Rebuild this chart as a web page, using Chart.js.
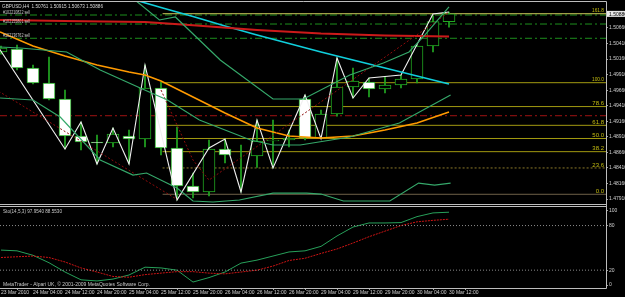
<!DOCTYPE html>
<html>
<head>
<meta charset="utf-8">
<script src="https://cdn.jsdelivr.net/npm/chart.js@4.4.1/dist/chart.umd.min.js"></script>
<style>
  html, body { margin: 0; padding: 0; background: #000; }
  canvas { display: block; }
</style>
</head>
<body>
<canvas id="chart" width="625" height="297"></canvas>
<script>
// GBPUSD H4, 23 Mar 20:00 .. 30 Mar 12:00 (bar index 0..28)
const tickBars = [0, 2, 4, 6, 8, 10, 12, 14, 16, 18, 20, 22, 24, 26, 28];
const tickLabels = ["23 Mar 2010", "24 Mar 04:00", "24 Mar 12:00", "24 Mar 20:00", "25 Mar 04:00", "25 Mar 12:00",
  "25 Mar 20:00", "26 Mar 04:00", "26 Mar 12:00", "26 Mar 20:00", "29 Mar 04:00", "29 Mar 12:00",
  "29 Mar 20:00", "30 Mar 04:00", "30 Mar 12:00"];

const opens  = [1.50273, 1.50322, 1.50016, 1.49775, 1.49518, 1.48923, 1.48826, 1.48810, 1.48923, 1.48875, 1.49695, 1.48730, 1.48119, 1.48023, 1.48714, 1.48617, 1.48601, 1.48842, 1.48859, 1.49518, 1.48891, 1.49277, 1.49711, 1.49791, 1.49678, 1.49743, 1.49839, 1.50370, 1.50761];
const highs  = [1.50370, 1.50386, 1.50064, 1.50193, 1.49662, 1.49148, 1.48939, 1.49051, 1.49019, 1.50064, 1.49791, 1.49068, 1.48328, 1.48859, 1.48875, 1.48778, 1.49180, 1.49180, 1.49019, 1.49582, 1.49341, 1.50177, 1.50016, 1.49855, 1.49871, 1.49904, 1.50386, 1.50860, 1.50915];
const lows   = [1.50240, 1.49984, 1.49759, 1.49502, 1.48714, 1.48698, 1.48473, 1.48746, 1.48473, 1.48746, 1.48617, 1.47894, 1.47926, 1.47958, 1.48489, 1.48023, 1.48420, 1.48408, 1.48746, 1.48859, 1.48880, 1.49240, 1.49534, 1.49550, 1.49614, 1.49695, 1.49775, 1.50273, 1.50673];
const closes = [1.50337, 1.50016, 1.49775, 1.49518, 1.48923, 1.48826, 1.48810, 1.48955, 1.48875, 1.49695, 1.48730, 1.48119, 1.48023, 1.48714, 1.48617, 1.48617, 1.48842, 1.48859, 1.48891, 1.48891, 1.49277, 1.49711, 1.49807, 1.49678, 1.49743, 1.49839, 1.50370, 1.50761, 1.50886];

// indicator lines as [bar, price]
const zigzag = [[-1, 1.50680], [4, 1.48714], [5, 1.49148], [6, 1.48473], [7, 1.49051], [8, 1.48473], [9, 1.50064], [11, 1.47894], [13, 1.48730], [14, 1.48875], [15, 1.48023], [16, 1.49180], [17, 1.48408], [19, 1.49582], [20, 1.48880], [21, 1.50177], [22, 1.49534], [23, 1.49855], [25, 1.49904], [27, 1.50884], [28, 1.50915]];
const cyanMA = [[7, 1.51212], [8, 1.51137], [10, 1.50989], [12, 1.50844], [14, 1.50691], [16, 1.50547], [18, 1.50410], [20, 1.50273], [22, 1.50145], [24, 1.50016], [26, 1.49888], [28, 1.49759]];
const redMA = [[-0.06, 1.50788], [4, 1.50772], [9, 1.50756], [12, 1.50704], [16, 1.50627], [20, 1.50571], [24, 1.50539], [28, 1.50523]];
const orangeMA = [[-0.06, 1.50595], [2, 1.50370], [4, 1.50209], [6, 1.50064], [8, 1.49952], [9, 1.49904], [10, 1.49807], [12, 1.49550], [14, 1.49293], [16, 1.49051], [18, 1.48923], [20, 1.48891], [22, 1.48923], [24, 1.49019], [26, 1.49132], [28, 1.49309]];
const bandUpper = [[8.3, 1.51125], [9.9, 1.50788], [10.9, 1.50836], [13.7, 1.50145], [17, 1.49518], [18.9, 1.49518], [21.8, 1.49904], [23.9, 1.50097], [25.5, 1.50273], [26.5, 1.50547], [28, 1.50997]];
const bandMiddle = [[-0.06, 1.50354], [1.2, 1.50338], [4.1, 1.50273], [6.2, 1.49984], [8.7, 1.49695], [10.4, 1.49502], [12.4, 1.49180], [15.6, 1.48859], [17, 1.48778], [18.7, 1.48778], [21.8, 1.48907], [24.9, 1.49132], [28.1, 1.49582]];
const bandLower = [[-0.06, 1.49534], [2, 1.49502], [3.7, 1.49228], [6.2, 1.48537], [8.25, 1.48296], [9.1, 1.48328], [11, 1.48087], [12, 1.47878], [13.25, 1.47862], [14.9, 1.47894], [17, 1.48006], [19.1, 1.48006], [20, 1.47990], [21.4, 1.47878], [24.3, 1.47878], [26.1, 1.48167], [27.1, 1.48135], [28.1, 1.48167]];
const darkRedDown = [[-1, 1.49775], [11, 1.47904]];
const darkRedUp = [[10, 1.49662], [11, 1.49100], [12, 1.48537], [13, 1.48215], [28, 1.50910]];

// horizontal objects
const fibLow = 1.47986;
const fibHigh = 1.49780;
const fibStartBar = 10.1;
const fibRatios = [0, 23.6, 38.2, 50.0, 61.8, 78.6, 100.0, 161.8];
const fibColors = ["#6e6048", "#8c7a2a", "#a29a10", "#a29a10", "#a29a10", "#a29a10", "#a29a10", "#cbc85a"];
const orderPrices = [1.50868, 1.50723, 1.50494];
const orderNames = ["#102210822 sell", "#102155801 sell", "#102136762 sell"];
const redLevel = 1.49249;

// price axis
const priceTicks = [1.4791, 1.4816, 1.4841, 1.4866, 1.4891, 1.4916, 1.4941, 1.4966, 1.4991, 1.5016, 1.5041, 1.5066];
const priceMin = 1.47830;
const priceMax = 1.51077;

// stochastic (14,5,3)
const stochMain   = [47, 46, 40, 30, 17.5, 7, 5.5, 8, 13.5, 24, 23, 20, 4, 10, 17.5, 29.5, 33.5, 39, 44.5, 46, 52, 66, 78, 83.5, 83.5, 84, 92, 97, 97.954];
const stochSignal = [37, 38, 39, 37, 31, 23, 17.5, 11.5, 10.5, 14, 16, 18, 18, 16, 15, 17.5, 20, 25.5, 33, 36, 42.5, 48.5, 56.5, 65, 72.5, 80, 85, 87, 88.553];
const stochTicks = [0, 20, 80, 100];
const stochLevels = [20, 80];

const xMin = -0.0625;
const xMax = 37.8125;
const FONT = '"Liberation Sans", Arial, sans-serif';
const GREEN = "#22aa22";

const pts = (arr) => arr.map(([x, y]) => ({ x, y }));
const hline = (price, from) => [{ x: from, y: price }, { x: xMax, y: price }];
const fibPrice = (r) => fibLow + (fibHigh - fibLow) * r / 100;

function lineSet(data, color, width, extra = {}) {
  return { type: "line", data, borderColor: color, borderWidth: width, pointRadius: 0, pointHoverRadius: 0, tension: 0, fill: false, yAxisID: "y", order: 1, ...extra };
}

const bars = closes.map((c, i) => i);
const datasets = [];

// horizontal objects (behind candles)
fibRatios.forEach((r, i) => {
  datasets.push(lineSet(hline(fibPrice(r), fibStartBar), fibColors[i], 1, { order: 4, borderDash: r === 23.6 ? [2, 2] : [] }));
});
orderPrices.forEach((p) => datasets.push(lineSet(hline(p, xMin), "#1d8f1d", 1, { order: 4, borderDash: [7, 3, 2, 3] })));
datasets.push(lineSet(hline(redLevel, xMin), "#a01212", 1, { order: 4, borderDash: [7, 3, 2, 3] }));

// candles: wicks then bodies
datasets.push({
  type: "bar", yAxisID: "y", order: 3, grouped: false,
  data: bars.map((i) => ({ x: i, y: [lows[i], highs[i]] })),
  backgroundColor: GREEN, borderWidth: 0, barThickness: 1,
});
datasets.push({
  type: "bar", yAxisID: "y", order: 2, grouped: false,
  data: bars.map((i) => ({ x: i, y: [opens[i], closes[i]] })),
  backgroundColor: bars.map((i) => (closes[i] >= opens[i] ? "#000000" : "#ffffff")),
  borderColor: GREEN, borderWidth: 1, borderSkipped: false, barThickness: 12,
});

// indicators
datasets.push(lineSet(pts(bandUpper), "#35a86a", 1.2));
datasets.push(lineSet(pts(bandMiddle), "#35a86a", 1.2));
datasets.push(lineSet(pts(bandLower), "#35a86a", 1.2));
datasets.push(lineSet(pts(darkRedDown), "#8e0c0c", 1, { borderDash: [2, 2] }));
datasets.push(lineSet(pts(darkRedUp), "#8e0c0c", 1, { borderDash: [2, 2] }));
datasets.push(lineSet(pts(redMA), "#cc1a1a", 2));
datasets.push(lineSet(pts(orangeMA), "#ff9a00", 1.6));
datasets.push(lineSet(pts(cyanMA), "#10cfdc", 1.6));
datasets.push(lineSet(pts(zigzag), "#f0f0f0", 1.1));

// stochastic pane
stochLevels.forEach((lv) => datasets.push(lineSet(hline(lv, xMin), "#8a8a8a", 1, { yAxisID: "yS", borderDash: [1, 2] })));
datasets.push(lineSet(bars.map((i) => ({ x: i, y: stochSignal[i] })), "#cc1414", 1, { yAxisID: "yS", borderDash: [2, 1] }));
datasets.push(lineSet(bars.map((i) => ({ x: i, y: stochMain[i] })), "#27a05a", 1, { yAxisID: "yS" }));

const overlay = {
  id: "overlay",
  afterDraw(chart) {
    const { ctx, chartArea: a, scales: { y, yS } } = chart;
    ctx.save();
    // frames and pane separator
    ctx.strokeStyle = "#bdbdbd";
    ctx.lineWidth = 1;
    ctx.beginPath();
    ctx.moveTo(a.left, a.top - 0.5); ctx.lineTo(a.right + 0.5, a.top - 0.5);
    ctx.moveTo(a.right + 0.5, a.top - 0.5); ctx.lineTo(a.right + 0.5, a.bottom + 0.5);
    ctx.moveTo(a.left, y.bottom + 0.5); ctx.lineTo(a.right, y.bottom + 0.5);
    ctx.moveTo(a.left, y.bottom + 2.5); ctx.lineTo(a.right, y.bottom + 2.5);
    ctx.moveTo(a.left, a.bottom + 0.5); ctx.lineTo(a.right + 0.5, a.bottom + 0.5);
    ctx.stroke();

    ctx.textBaseline = "middle";
    ctx.textAlign = "left";
    ctx.font = "6px " + FONT;
    ctx.fillStyle = "#d8d8d8";
    const last = closes.length - 1;
    const header = "GBPUSD,H4  " + [opens[last], highs[last], lows[last], closes[last]].map((v) => v.toFixed(5)).join(" ");
    ctx.fillText(header, a.left + 2, a.top + 4.5, 101);

    ctx.fillStyle = "#c8c8c8";
    orderPrices.forEach((p, i) => ctx.fillText(orderNames[i], a.left + 3, y.getPixelForValue(p) - 2.5, 27));

    ctx.fillText("Sto(14,5,3) " + stochMain[last].toFixed(4) + " " + stochSignal[last].toFixed(4), a.left + 3, yS.top + 7.5, 59);
    ctx.fillText("MetaTrader - Alpari UK, \u00a9 2001-2009 MetaQuotes Software Corp.", a.left + 3, a.bottom - 4, 147);

    // fibo level labels
    ctx.textAlign = "right";
    ctx.fillStyle = "#c4bc10";
    fibRatios.forEach((r) => ctx.fillText(r.toFixed(1), a.right - 2, y.getPixelForValue(fibPrice(r)) - 3, 12));

    // current price marker
    const cp = y.getPixelForValue(closes[last]);
    ctx.fillStyle = "#e6e6e6";
    ctx.fillRect(a.right + 1, cp - 3, chart.width - a.right - 1, 6);
    ctx.fillStyle = "#000";
    ctx.textAlign = "left";
    ctx.font = "5px " + FONT;
    ctx.fillText(closes[last].toFixed(5), a.right + 3, cp + 0.5, 18);
    ctx.restore();
  },
};

const axisGrid = { display: true, drawOnChartArea: false, drawTicks: true, tickLength: 2, color: "#a0a0a0" };
const noPad = (s) => { s.paddingTop = 0; s.paddingBottom = 0; s.paddingLeft = 0; s.paddingRight = 0; };

new Chart(document.getElementById("chart"), {
  type: "line",
  data: { datasets },
  options: {
    responsive: false,
    animation: false,
    events: [],
    layout: { autoPadding: false, padding: { top: 2, left: 0, right: 0, bottom: 0 } },
    plugins: { legend: { display: false }, tooltip: { enabled: false } },
    scales: {
      x: {
        type: "linear", min: xMin, max: xMax, offset: false,
        afterBuildTicks: (s) => { s.ticks = tickBars.map((v) => ({ value: v })); },
        afterFit: (s) => { s.height = 9; noPad(s); },
        grid: axisGrid, border: { display: false },
        ticks: {
          align: "start", padding: 0, maxRotation: 0, autoSkip: false, color: "#d0d0d0",
          font: { size: 5, family: FONT },
          callback: (v) => tickLabels[tickBars.indexOf(v)] ?? "",
        },
      },
      y: {
        type: "linear", position: "right", stack: "panes", stackWeight: 202, min: priceMin, max: priceMax,
        afterBuildTicks: (s) => { s.ticks = priceTicks.map((v) => ({ value: v })); },
        afterFit: (s) => { s.width = 19; noPad(s); },
        grid: axisGrid, border: { display: false },
        ticks: { padding: 1, color: "#d0d0d0", font: { size: 5, family: FONT }, callback: (v) => Number(v).toFixed(5) },
      },
      yS: {
        type: "linear", position: "right", stack: "panes", stackWeight: 84, min: -4, max: 109,
        afterBuildTicks: (s) => { s.ticks = stochTicks.map((v) => ({ value: v })); },
        afterFit: (s) => { s.width = 19; noPad(s); },
        grid: axisGrid, border: { display: false },
        ticks: { padding: 1, color: "#d0d0d0", font: { size: 5, family: FONT }, callback: (v) => String(v) },
      },
    },
  },
  plugins: [overlay],
});
</script>
</body>
</html>
